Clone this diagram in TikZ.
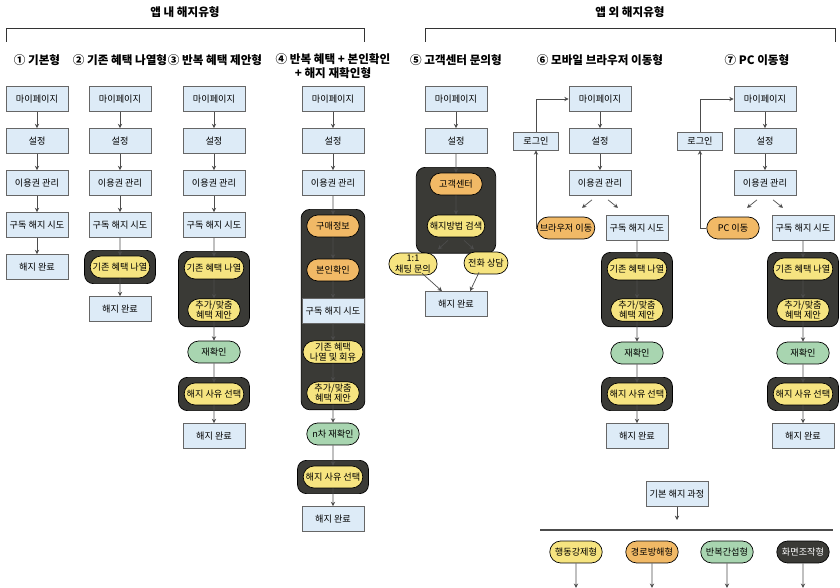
\documentclass[tikz,border=0pt]{standalone}
\usepackage{fontspec}
\setmainfont{Noto Sans CJK KR}
\usetikzlibrary{shapes.misc,arrows.meta,fit,backgrounds}
\definecolor{boxblue}{RGB}{221,235,247}
\definecolor{pillyellow}{RGB}{246,228,128}
\definecolor{pillorange}{RGB}{241,185,102}
\definecolor{pillgreen}{RGB}{168,213,176}
\definecolor{darkgrp}{RGB}{58,58,54}

\begin{document}
\begin{tikzpicture}[x=0.02cm,y=-0.02cm,font=\fontsize{5.2}{6}\selectfont]

\tikzstyle{stepbox} = [draw=black!60, fill=boxblue, minimum width=1.24cm, minimum height=0.5cm, align=center, inner sep=1pt]
\tikzstyle{loginbox} = [stepbox, minimum width=0.9cm, minimum height=0.36cm]
\tikzstyle{pillbox} = [draw=black, rounded rectangle, minimum width=1.12cm, minimum height=0.44cm, align=center, inner sep=1pt]
\tikzstyle{yel} = [pillbox, fill=pillyellow]
\tikzstyle{ora} = [pillbox, fill=pillorange]
\tikzstyle{grn} = [pillbox, fill=pillgreen]
\tikzstyle{grp} = [draw=black, fill=darkgrp, rounded corners=5pt, inner sep=3pt]
\tikzstyle{arr} = [-{Stealth[length=2.5pt,width=2.5pt]}, black!70, thin]
\tikzstyle{colhead} = [font=\fontsize{6.6}{8}\selectfont\bfseries, align=center]

\useasboundingbox (0,0) rectangle (840,588);

% titles and brackets
\node[colhead] (tin) at (185,12) {앱 내 해지유형};
\node[colhead] (tout) at (630,12) {앱 외 해지유형};
\draw[black!80] (6,42) -- (6,28) -- (364,28) -- (364,42);
\draw[black!80] (425,42) -- (425,28) -- (835,28) -- (835,42);

\node[colhead] (h1) at (37,60) {① 기본형};
\node[colhead] (h2) at (120,60) {② 기존 혜택 나열형};
\node[colhead] (h3) at (215,60) {③ 반복 혜택 제안형};
\node[colhead] (h4) at (333,66) {④ 반복 혜택 + 본인확인\\+ 해지 재확인형};
\node[colhead] (h5) at (456,60) {⑤ 고객센터 문의형};
\node[colhead] (h6) at (600,60) {⑥ 모바일 브라우저 이동형};
\node[colhead] (h7) at (757,60) {⑦ PC 이동형};

% common top steps
\foreach \c/\x in {a/37,b/120,c/214,d/333,mob/600,pc/765}{
  \node[stepbox] (\c1) at (\x,99) {마이페이지};
  \node[stepbox] (\c2) at (\x,141) {설정};
  \node[stepbox] (\c3) at (\x,183) {이용권 관리};
  \draw[arr] (\c1) -- (\c2);
  \draw[arr] (\c2) -- (\c3);
}
\foreach \c/\x in {a/37,b/120,c/214}{
  \node[stepbox] (\c4) at (\x,225) {구독 해지 시도};
  \draw[arr] (\c3) -- (\c4);
}

% 1
\node[stepbox] (a5) at (37,267) {해지 완료};
\draw[arr] (a4) -- (a5);

% 2
\node[yel] (b5) at (120,267) {기존 혜택 나열};
\node[stepbox] (b6) at (120,309) {해지 완료};
\draw[arr] (b4) -- (b5);
\draw[arr] (b5) -- (b6);

% 3
\node[yel] (c5) at (214,268) {기존 혜택 나열};
\node[yel] (c6) at (214,310) {추가/맞춤\\혜택 제안};
\node[grn] (c7) at (214,352) {재확인};
\node[yel] (c8) at (214,394) {해지 사유 선택};
\node[stepbox] (c9) at (214,436) {해지 완료};
\draw[arr] (c4) -- (c5);
\draw[arr] (c5) -- (c6);
\draw[arr] (c6) -- (c7);
\draw[arr] (c7) -- (c8);
\draw[arr] (c8) -- (c9);

% 4
\node[ora] (d4) at (333,226) {구매정보};
\node[ora] (d5) at (333,270) {본인확인};
\node[stepbox] (d6) at (333,311) {구독 해지 시도};
\node[yel] (d7) at (333,352) {기존 혜택\\나열 및 회유};
\node[yel] (d8) at (333,393) {추가/맞춤\\혜택 제안};
\node[grn] (d9) at (333,434) {n차 재확인};
\node[yel] (d10) at (333,477) {해지 사유 선택};
\node[stepbox] (d11) at (333,519) {해지 완료};
\draw[arr] (d3) -- (d4);
\foreach \i/\j in {4/5,5/6,6/7,7/8,8/9,9/10,10/11}
  \draw[arr] (d\i) -- (d\j);

% 5
\node[stepbox] (e1) at (456,99) {마이페이지};
\node[stepbox] (e2) at (456,141) {설정};
\node[ora] (e3) at (456,184) {고객센터};
\node[yel] (e4) at (456,226) {해지방법 검색};
\node[yel, minimum width=0.95cm] (e5) at (413,264) {1:1\\채팅 문의};
\node[yel, minimum width=0.95cm] (e6) at (486,263) {전화 상담};
\node[stepbox] (e7) at (456,304) {해지 완료};
\draw[arr] (e1) -- (e2);
\draw[arr] (e2) -- (e3);
\draw[arr] (e3) -- (e4);
\draw[arr] (e4.south) ++(-8,3) -- ++(-10,9);
\draw[arr] (e4.south) ++(8,3) -- ++(10,9);
\draw[arr] (e5.south east) ++(-4,-2) -- ([xshift=-8pt]e7.north);
\draw[arr] (e6.south west) ++(4,-2) -- ([xshift=8pt]e7.north);

% 6
\node[loginbox] (mobL) at (536,141) {로그인};
\node[ora] (mobM) at (566,228) {브라우저 이동};
\node[stepbox] (mob4) at (637,228) {구독 해지 시도};
\node[yel] (mob5) at (637,269) {기존 혜택 나열};
\node[yel] (mob6) at (637,310) {추가/맞춤\\혜택 제안};
\node[grn] (mob7) at (637,353) {재확인};
\node[yel] (mob8) at (637,394) {해지 사유 선택};
\node[stepbox] (mob9) at (637,436) {해지 완료};
\draw[arr] (mob3.south) ++(-8,4) -- ++(-10,8);
\draw[arr] (mob3.south) ++(8,4) -- ++(10,8);
\draw[arr] (mobM.west) -| (mobL.south);
\draw[arr] (mobL.north) |- (mob1.west);
\foreach \i/\j in {4/5,5/6,6/7,7/8,8/9}
  \draw[arr] (mob\i) -- (mob\j);

% 7
\node[loginbox] (pcL) at (700,141) {로그인};
\node[ora] (pcM) at (733,228) {PC 이동};
\node[stepbox] (pc4) at (803,228) {구독 해지 시도};
\node[yel] (pc5) at (803,269) {기존 혜택 나열};
\node[yel] (pc6) at (803,310) {추가/맞춤\\혜택 제안};
\node[grn] (pc7) at (803,353) {재확인};
\node[yel] (pc8) at (803,394) {해지 사유 선택};
\node[stepbox] (pc9) at (803,436) {해지 완료};
\draw[arr] (pc3.south) ++(-8,4) -- ++(-10,8);
\draw[arr] (pc3.south) ++(8,4) -- ++(10,8);
\draw[arr] (pcM.west) -| (pcL.south);
\draw[arr] (pcL.north) |- (pc1.west);
\foreach \i/\j in {4/5,5/6,6/7,7/8,8/9}
  \draw[arr] (pc\i) -- (pc\j);

% legend
\node[stepbox] (base) at (677,494) {기본 해지 과정};
\coordinate (bar) at (677,520);
\draw[arr] (base) -- (bar);
\draw[black!70, thick] (540,530) -- (833,530);
\node[yel] (k1) at (576,552) {행동강제형};
\node[ora] (k2) at (652,552) {경로방해형};
\node[grn] (k3) at (727,552) {반복간섭형};
\node[pillbox, fill=darkgrp, text=white] (k4) at (803,552) {화면조작형};
\foreach \k in {k1,k2,k3,k4}{
  \coordinate (\k e) at ([yshift=-14pt]\k.south);
  \draw[arr] (\k) -- (\k e);
}

% dark groups
\begin{scope}[on background layer]
\node[grp, fit=(b5)] {};
\node[grp, fit=(c5)(c6)] {};
\node[grp, fit=(c8)] {};
\node[grp, fit=(d4)(d8)] {};
\node[grp, fit=(d10)] {};
\coordinate (e4low) at ([yshift=-6pt]e4.south);
\node[grp, fit=(e3)(e4)(e4low), inner xsep=6pt] {};
\node[grp, fit=(mob5)(mob6)] {};
\node[grp, fit=(mob8)] {};
\node[grp, fit=(pc5)(pc6)] {};
\node[grp, fit=(pc8)] {};
\end{scope}

\end{tikzpicture}
\end{document}
